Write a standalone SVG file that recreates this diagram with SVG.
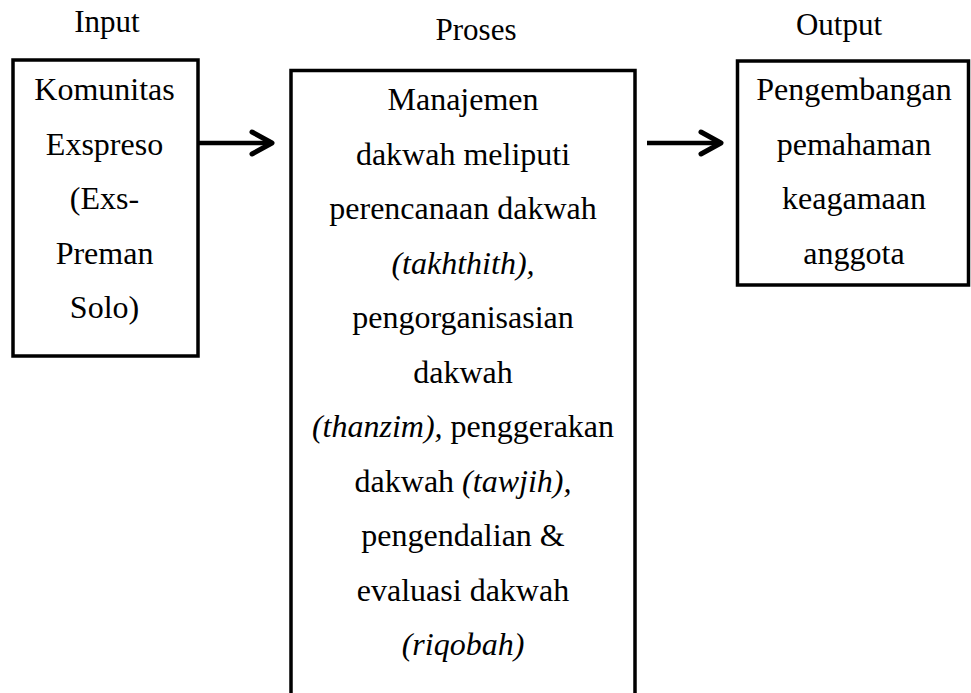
<svg xmlns="http://www.w3.org/2000/svg" width="971" height="693" viewBox="0 0 971 693">
  <style>
    text { font-family: "Liberation Serif", "Times New Roman", Times, serif; font-size: 32px; fill: #000; text-anchor: middle; }
    .lbl { font-size: 31px; }
    .it { font-style: italic; }
    .box { fill: #fff; stroke: #000; stroke-width: 3.5; }
    .conn { stroke: #000; stroke-width: 4.5; fill: none; }
  </style>
  <defs>
    <marker id="chev" markerUnits="userSpaceOnUse" viewBox="-26 -15 30 30" markerWidth="30" markerHeight="30" refX="0" refY="0" orient="auto">
      <path d="M -20 -11 L 0 0 L -20 11" fill="none" stroke="#000" stroke-width="5" stroke-linecap="round" stroke-linejoin="round"/>
    </marker>
  </defs>
  <rect width="971" height="693" fill="#fff"/>

  <g id="labels">
    <text class="lbl" x="107" y="32">Input</text>
    <text class="lbl" x="476" y="40">Proses</text>
    <text class="lbl" x="839" y="35">Output</text>
  </g>

  <g id="input">
    <rect class="box" x="13" y="60" width="185" height="296"/>
    <text x="104.5" y="100">Komunitas</text>
    <text x="104.5" y="154.5">Exspreso</text>
    <text x="104.5" y="209">(Exs-</text>
    <text x="104.5" y="263.5">Preman</text>
    <text x="104.5" y="318">Solo)</text>
  </g>

  <g id="proses">
    <path class="box" d="M 291 700 L 291 70.5 L 635 70.5 L 635 700"/>
    <text x="463" y="110">Manajemen</text>
    <text x="463" y="164.5">dakwah meliputi</text>
    <text x="463" y="219">perencanaan dakwah</text>
    <text x="463" y="273.5"><tspan class="it">(takhthith),</tspan></text>
    <text x="463" y="328">pengorganisasian</text>
    <text x="463" y="382.5">dakwah</text>
    <text x="463" y="437"><tspan class="it">(thanzim),</tspan> penggerakan</text>
    <text x="463" y="491.5">dakwah <tspan class="it">(tawjih),</tspan></text>
    <text x="463" y="546">pengendalian &amp;</text>
    <text x="463" y="600.5">evaluasi dakwah</text>
    <text x="463" y="655"><tspan class="it">(riqobah)</tspan></text>
  </g>

  <g id="output">
    <rect class="box" x="737.5" y="61" width="231" height="224"/>
    <text x="854" y="100">Pengembangan</text>
    <text x="854" y="154.5">pemahaman</text>
    <text x="854" y="209">keagamaan</text>
    <text x="854" y="263.5">anggota</text>
  </g>

  <g id="connectors">
    <line class="conn" x1="199" y1="143" x2="272" y2="143" marker-end="url(#chev)"/>
    <line class="conn" x1="647" y1="143" x2="721" y2="143" marker-end="url(#chev)"/>
  </g>
</svg>
